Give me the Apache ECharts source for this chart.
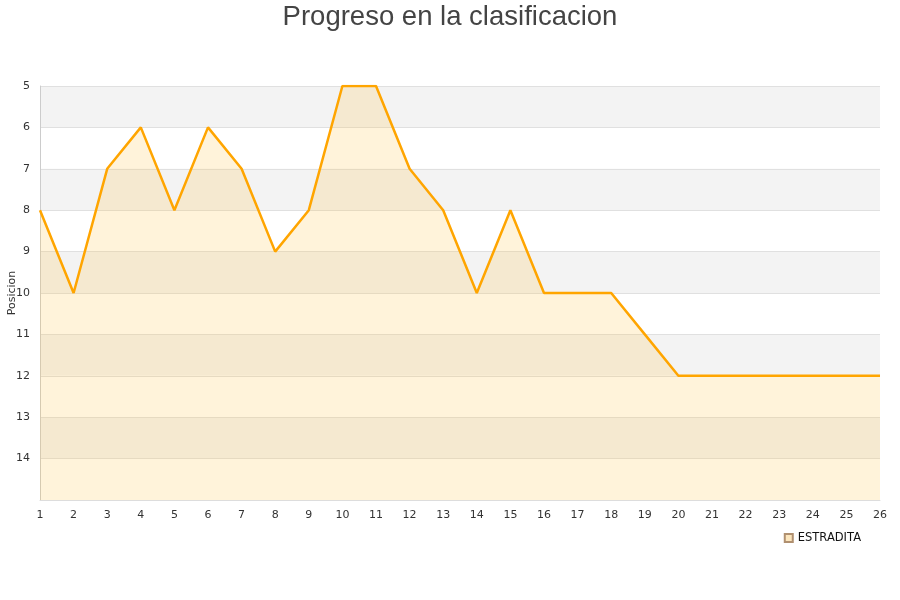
<!DOCTYPE html>
<html><head><meta charset="utf-8">
<script src="https://cdn.jsdelivr.net/npm/echarts@6/dist/echarts.min.js"></script>
<style>html,body{margin:0;padding:0;background:#fff}#c{width:900px;height:600px}</style>
</head><body><div id="c"></div>
<script>
const jornadas = ['1','2','3','4','5','6','7','8','9','10','11','12','13','14','15','16','17','18','19','20','21','22','23','24','25','26'];
const posiciones = [8,10,7,6,8,6,7,9,8,5,5,7,8,10,8,10,10,10,11,12,12,12,12,12,12,12];
const seriesName = 'ESTRADITA';
const chart = echarts.init(document.getElementById('c'));
chart.setOption({
  animation: false,
  title: {text: 'Progreso en la clasificacion', left: 'center', top: -2,
    textStyle: {fontFamily: 'Liberation Sans, Arial, sans-serif', fontSize: 27.5, fontWeight: 'normal', color: '#444'}},
  grid: {left: 40, right: 20, top: 86, bottom: 100, containLabel: false, outerBoundsMode: 'none'},
  legend: {data: [{name: seriesName, icon: 'rect'}], right: 34, top: 527, itemWidth: 8, itemHeight: 8, itemGap: 10,
    textStyle: {fontFamily: 'DejaVu Sans', fontSize: 11.5, color: '#111'}},
  xAxis: {type: 'category', data: jornadas, boundaryGap: false,
    axisLine: {show: true, lineStyle: {color: '#ddd'}}, axisTick: {show: false},
    axisLabel: {fontFamily: 'DejaVu Sans', fontSize: 11, color: '#333', margin: 10}},
  yAxis: {type: 'value', inverse: true, min: 5, max: 15, interval: 1,
    name: 'Posicion', nameLocation: 'middle', nameGap: 22, nameRotate: 90, nameMoveOverlap: false,
    nameTextStyle: {fontFamily: 'DejaVu Sans', fontSize: 11, color: '#333'},
    axisLine: {show: true, lineStyle: {color: '#ccc'}}, axisTick: {show: false},
    axisLabel: {fontFamily: 'DejaVu Sans', fontSize: 11, color: '#333', margin: 10,
      formatter: v => v === 15 ? '' : v},
    splitLine: {show: true, lineStyle: {color: '#e0e0e0'}},
    splitArea: {show: true, areaStyle: {color: ['#f3f3f3', '#ffffff']}}},
  series: [{name: seriesName, type: 'line', data: posiciones, symbol: 'none',
    lineStyle: {color: '#ffa500', width: 2.5}, itemStyle: {color: '#fce6bd', borderColor: '#b09070', borderWidth: 1},
    areaStyle: {color: 'rgba(255,200,80,0.3)', origin: 'end'}}]
});
</script></body></html>
